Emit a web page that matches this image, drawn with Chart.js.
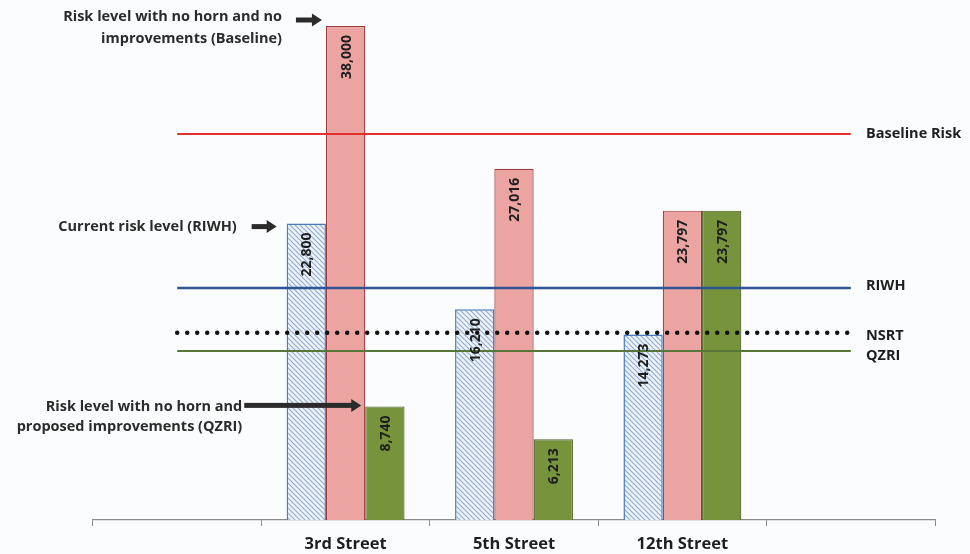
<!DOCTYPE html>
<html>
<head>
<meta charset="utf-8">
<script src="https://cdn.jsdelivr.net/npm/chart.js@4.4.1/dist/chart.umd.min.js"></script>
<style>
  html, body { margin: 0; padding: 0; background: #fafcfd; }
  #wrap { width: 970px; height: 554px; position: relative; }
</style>
</head>
<body>
<div id="wrap"><canvas id="chart"></canvas></div>
<script>
// ---- datos ----
const streets = ["", "3rd Street", "5th Street", "12th Street", ""];
const riwh = [null, 22800, 16210, 14273, null];
const baseline = [null, 38000, 27016, 23797, null];
const qzri = [null, 8740, 6213, 23797, null];
const levelNames = ["Baseline Risk", "RIWH", "NSRT", "QZRI"];
const levelValues = [29700, 17850, 14400, 13000];

const FONT = "'Open Sans', Lato, sans-serif";

// hatch pattern for the RIWH bars
function hatch() {
  const c = document.createElement("canvas");
  c.width = 5; c.height = 5;
  const g = c.getContext("2d");
  g.fillStyle = "#edf2f9";
  g.fillRect(0, 0, 5, 5);
  g.strokeStyle = "#91abcf";
  g.lineWidth = 1.1;
  g.beginPath();
  g.moveTo(0, 0); g.lineTo(5, 5);
  g.moveTo(-2.5, 2.5); g.lineTo(2.5, 7.5);
  g.moveTo(2.5, -2.5); g.lineTo(7.5, 2.5);
  g.stroke();
  return g.createPattern(c, "repeat");
}

const lineColors = ["#e3302b", "#2e5496", "#111111", "#587637"];
const lineWidths = [2, 2.5, 4.5, 2];

const levelSets = levelNames.map((name, i) => ({
  type: "line",
  label: name,
  data: streets.map(() => levelValues[i]),
  borderColor: lineColors[i],
  borderWidth: lineWidths[i],
  borderDash: name === "NSRT" ? [0, 10] : [],
  borderCapStyle: name === "NSRT" ? "round" : "butt",
  pointRadius: 0,
  fill: false,
  order: 0
}));

// value labels inside bars, rotated
const valueLabels = {
  id: "valueLabels",
  afterDatasetsDraw(chart) {
    const ctx = chart.ctx;
    ctx.save();
    ctx.font = "bold 14px " + FONT;
    ctx.fillStyle = "#1e1e1e";
    ctx.textAlign = "right";
    ctx.textBaseline = "middle";
    [0, 1, 2].forEach(di => {
      const meta = chart.getDatasetMeta(di);
      meta.data.forEach((bar, i) => {
        const v = chart.data.datasets[di].data[i];
        if (v == null) return;
        ctx.save();
        ctx.translate(bar.x + 1, bar.y + 9);
        ctx.rotate(-Math.PI / 2);
        ctx.fillText(v.toLocaleString("en-US"), 0, 0);
        ctx.restore();
      });
    });
    ctx.restore();
  }
};

function arrow(ctx, x0, y, x1) {
  ctx.fillStyle = "#2b2b2b";
  ctx.fillRect(x0, y - 2.5, x1 - x0 - 9, 5);
  ctx.beginPath();
  ctx.moveTo(x1, y);
  ctx.lineTo(x1 - 10, y - 6.5);
  ctx.lineTo(x1 - 10, y + 6.5);
  ctx.closePath();
  ctx.fill();
}

// right-hand level labels and left annotations
const notes = {
  id: "notes",
  afterDraw(chart) {
    const ctx = chart.ctx;
    const y = chart.scales.y;
    ctx.save();
    ctx.font = "bold 14.5px " + FONT;
    ctx.fillStyle = "#1e1e1e";
    ctx.textAlign = "left";
    ctx.textBaseline = "middle";
    const shift = [0, -2, 3, 5];
    levelNames.forEach((n, i) => {
      ctx.fillText(n, 866, y.getPixelForValue(levelValues[i]) + shift[i]);
    });

    ctx.textAlign = "right";
    const bar = (d, i) => chart.getDatasetMeta(d).data[i];

    // baseline annotation
    let b = bar(1, 1);
    let tip = b.x - b.width / 2 - 4, ay = b.y - 6;
    arrow(ctx, tip - 26, ay, tip);
    ctx.fillText("Risk level with no horn and no", tip - 40, 17);
    ctx.fillText("improvements (Baseline)", tip - 40, 39);

    // current risk annotation
    b = bar(0, 1);
    tip = b.x - b.width / 2 - 10; ay = b.y + 3;
    arrow(ctx, tip - 25, ay, tip);
    ctx.fillText("Current risk level (RIWH)", tip - 40, ay);

    // qzri annotation
    b = bar(2, 1);
    tip = b.x - b.width / 2 - 4; ay = b.y - 1;
    arrow(ctx, tip - 117, ay, tip);
    ctx.fillText("Risk level with no horn and", tip - 119, ay + 1);
    ctx.fillText("proposed improvements (QZRI)", tip - 119, ay + 21);
    ctx.restore();
  }
};

new Chart(document.getElementById("chart"), {
  type: "bar",
  data: {
    labels: streets,
    datasets: [
      {
        label: "RIWH",
        data: riwh,
        backgroundColor: hatch(),
        borderColor: "#4a7ebb",
        borderWidth: 1.5,
        order: 1
      },
      {
        label: "Baseline",
        data: baseline,
        backgroundColor: "#eba4a2",
        borderColor: "#9c3b3b",
        borderWidth: 1.2,
        order: 1
      },
      {
        label: "QZRI",
        data: qzri,
        backgroundColor: "#77933c",
        borderColor: "#4f6228",
        borderWidth: 1.2,
        order: 1
      },
      ...levelSets
    ]
  },
  options: {
    responsive: true,
    maintainAspectRatio: false,
    animation: false,
    layout: { padding: { left: 93, right: 35, top: 0, bottom: 0 } },
    datasets: { bar: { categoryPercentage: 0.7, barPercentage: 1 } },
    plugins: { legend: { display: false }, tooltip: { enabled: false } },
    scales: {
      x: {
        afterFit(axis) { axis.height = 34; },
        grid: { drawOnChartArea: false, drawTicks: true, tickLength: 6, color: "#8a8a8a", offset: true },
        border: { color: "#8a8a8a", width: 1.2 },
        ticks: { color: "#1e1e1e", font: { family: FONT, size: 16.5, weight: "bold" }, padding: 8 }
      },
      y: { display: false, min: 0, max: 40000 }
    }
  },
  plugins: [valueLabels, notes]
});
</script>
</body>
</html>
